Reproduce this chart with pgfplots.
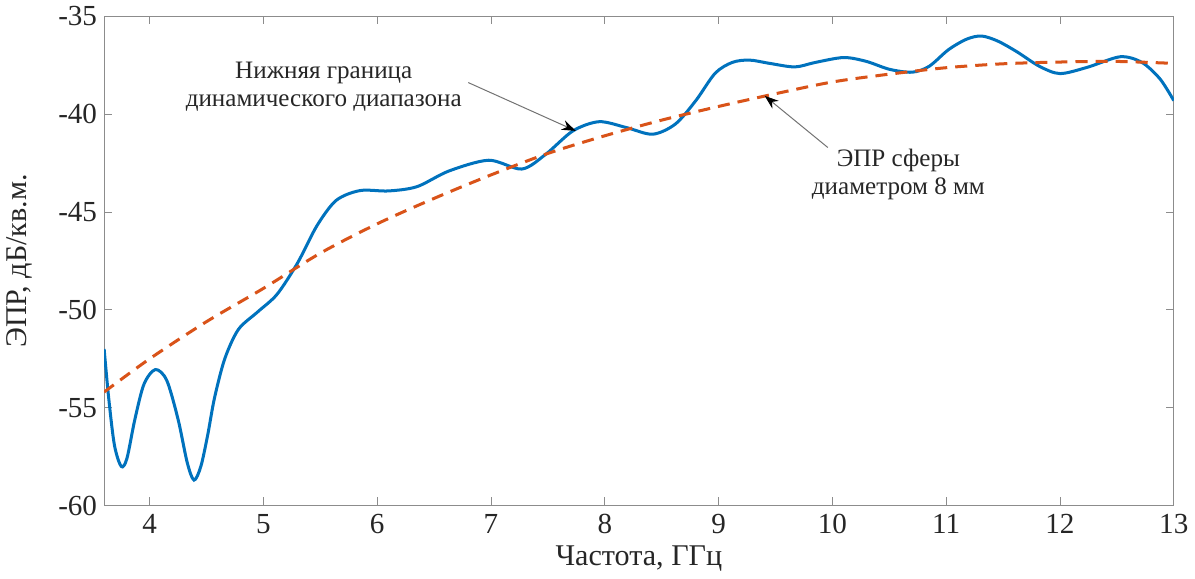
\documentclass[border=0pt]{standalone}
\usepackage{fontspec}
\setmainfont{Liberation Serif}
\usepackage{pgfplots}
\pgfplotsset{compat=1.18}
\usetikzlibrary{arrows.meta}
\definecolor{mblue}{HTML}{0072BD}
\definecolor{morange}{HTML}{D95319}

\begin{document}
\begin{tikzpicture}
\begin{axis}[
  scale only axis,
  width=533pt, height=243.7pt,
  xmin=3.6, xmax=13, ymin=-60, ymax=-35,
  xtick={4,5,...,13}, ytick={-60,-55,...,-35},
  tick align=inside, major tick length=4pt,
  axis line style={draw=black!45},
  every tick/.style={draw=black!45},
  tick label style={font=\fontsize{14.5}{16}\selectfont, text=black!85},
  xticklabel style={yshift=-1pt},
  /pgf/number format/assume math mode=true,
  xlabel={Частота, ГГц}, ylabel={ЭПР, дБ/кв.м.},
  label style={font=\fontsize{15}{17}\selectfont, text=black!85},
  xlabel style={yshift=1pt},
  ylabel style={yshift=6pt},
  clip=true,
]
\addplot[mblue, line width=1.5pt, smooth] table {
3.60 -52.0
3.64 -54.5
3.69 -56.9
3.75 -58.0
3.80 -57.6
3.87 -55.6
3.95 -53.8
4.05 -53.05
4.15 -53.6
4.25 -55.6
4.33 -57.8
4.39 -58.7
4.45 -58.0
4.51 -56.4
4.57 -54.5
4.66 -52.5
4.78 -51.0
4.95 -50.1
5.12 -49.2
5.30 -47.6
5.47 -45.7
5.64 -44.4
5.85 -43.9
6.10 -43.92
6.35 -43.7
6.63 -42.9
6.98 -42.35
7.27 -42.8
7.48 -42.05
7.72 -40.85
7.95 -40.38
8.19 -40.68
8.42 -41.02
8.62 -40.5
8.80 -39.3
8.97 -37.9
9.12 -37.35
9.27 -37.23
9.45 -37.4
9.67 -37.58
9.85 -37.35
10.10 -37.1
10.30 -37.3
10.50 -37.7
10.70 -37.85
10.85 -37.55
11.02 -36.7
11.18 -36.16
11.31 -36.0
11.45 -36.25
11.62 -36.8
11.82 -37.55
12.00 -37.92
12.24 -37.6
12.53 -37.06
12.72 -37.35
12.88 -38.2
13.00 -39.3
};
\addplot[morange, line width=1.5pt, dash pattern=on 6pt off 4pt, smooth] table {
3.6 -54.2
4.0 -52.5
4.5 -50.6
5.0 -48.9
5.5 -47.1
6.0 -45.6
6.5 -44.3
7.0 -43.1
7.5 -42.0
8.0 -41.1
8.5 -40.3
9.0 -39.6
9.5 -38.95
10.0 -38.35
10.5 -37.95
11.0 -37.62
11.5 -37.42
12.0 -37.33
12.5 -37.3
13.0 -37.4
};
\draw[black!55, line width=0.5pt, -{Stealth[length=7pt, width=5pt, black]}]
  (axis cs:6.80,-38.38) -- (axis cs:7.745,-40.85);
\draw[black!55, line width=0.5pt, -{Stealth[length=7pt, width=5pt, black]}]
  (axis cs:9.96,-41.7) -- (axis cs:9.405,-39.06);
\node[align=center, font=\fontsize{12.5}{14}\selectfont, text=black!85]
  at (axis cs:5.53,-38.6) {Нижняя граница\\динамического диапазона};
\node[align=center, font=\fontsize{12.5}{14}\selectfont, text=black!85]
  at (axis cs:10.58,-43.1) {ЭПР сферы\\диаметром 8 мм};
\end{axis}
\end{tikzpicture}
\end{document}
